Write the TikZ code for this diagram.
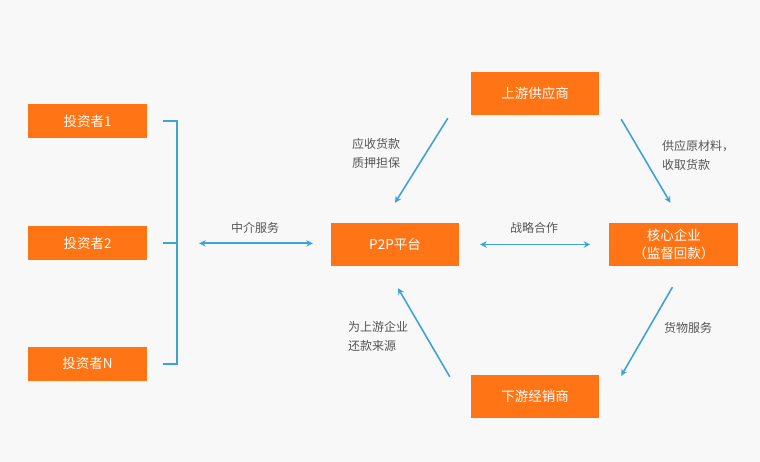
\documentclass[tikz,border=0pt]{standalone}
\usepackage{fontspec}
\setmainfont{Noto Sans CJK SC}
\usetikzlibrary{positioning, arrows.meta}

\definecolor{bgcol}{HTML}{F8F8F8}
\definecolor{boxorange}{HTML}{FF7415}
\definecolor{lineblue}{HTML}{3FA3D9}
\definecolor{labelgray}{HTML}{555555}

\begin{document}
\begin{tikzpicture}[
    x=1pt, y=1pt,
    font=\fontsize{12}{19}\selectfont,
    >={Stealth[length=6.5pt, width=6.5pt]},
    block/.style={fill=boxorange, text=white, inner sep=0pt, align=center, font=\fontsize{13.5}{18}\selectfont},
    investor/.style={block, minimum width=119pt, minimum height=34pt},
    party/.style={block, minimum width=128pt, minimum height=43pt},
    arrow/.style={->, draw=lineblue, line width=1.6pt},
    both/.style={<->, draw=lineblue, line width=1.9pt},
    bracket/.style={draw=lineblue, line width=1.9pt},
    note/.style={text=labelgray, align=left, inner sep=0pt}
  ]
    \fill[bgcol] (0,0) rectangle (760,462);
    \useasboundingbox (0,0) rectangle (760,462);

    % investors
    \node[investor] (inv1) at (87.5,341) {投资者1};
    \node[investor, below=88pt of inv1] (inv2) {投资者2};
    \node[investor, below=86pt of inv2] (invN) {投资者N};

    % ==========================================
    \node[party] (p2p) at (395,217.5) {P2P平台};
    \node[party, right=150pt of p2p, minimum width=129pt] (core) {核心企业\\（监督回款）};
    \node[party] (up) at (535,368.5) {上游供应商};
    \node[party] (down) at (535,65.5) {下游经销商};

    % bracket
    \coordinate (b1) at ([xshift=16pt]inv1.east);
    \coordinate (b2) at ([xshift=16pt]inv2.east);
    \coordinate (bN) at ([xshift=16pt]invN.east);
    \draw[bracket] (b1) -- ++(14,0) |- (bN);
    \draw[bracket] (b2) -- ++(14,0) coordinate (bus2);

    % ==========================================
    \draw[both] ([xshift=22pt]bus2) -- ([xshift=-18pt]p2p.west |- bus2);
    \node[note] (lmid) at (255,234) {中介服务};
    \draw[both] ([xshift=21pt]p2p.east) -- ([xshift=-19pt]core.west);
    \node[note] (lcoop) at (534,234) {战略合作};

    \draw[arrow] ([shift={(-23pt,-3pt)}]up.south west) -- ([yshift=20pt]p2p.north);
    \draw[arrow] ([shift={(22pt,-4pt)}]up.south east) -- ([shift={(-3.5pt,20pt)}]core.north);
    \draw[arrow] ([shift={(-1.5pt,-21pt)}]core.south) -- ([shift={(22pt,-1pt)}]down.north east);
    \draw[arrow] ([shift={(-21pt,-2pt)}]down.north west) -- ([shift={(3pt,-22pt)}]p2p.south);

    \node[note, anchor=west] (lpledge) at (352,309) {应收货款\\质押担保};
    \node[note, anchor=west] (lsupply) at (662,307) {供应原材料，\\收取货款};
    \node[note] (lgoods) at (688,134) {货物服务};
    \node[note, anchor=west] (lrepay) at (348,125.5) {为上游企业\\还款来源};

  \end{tikzpicture}
\end{document}
